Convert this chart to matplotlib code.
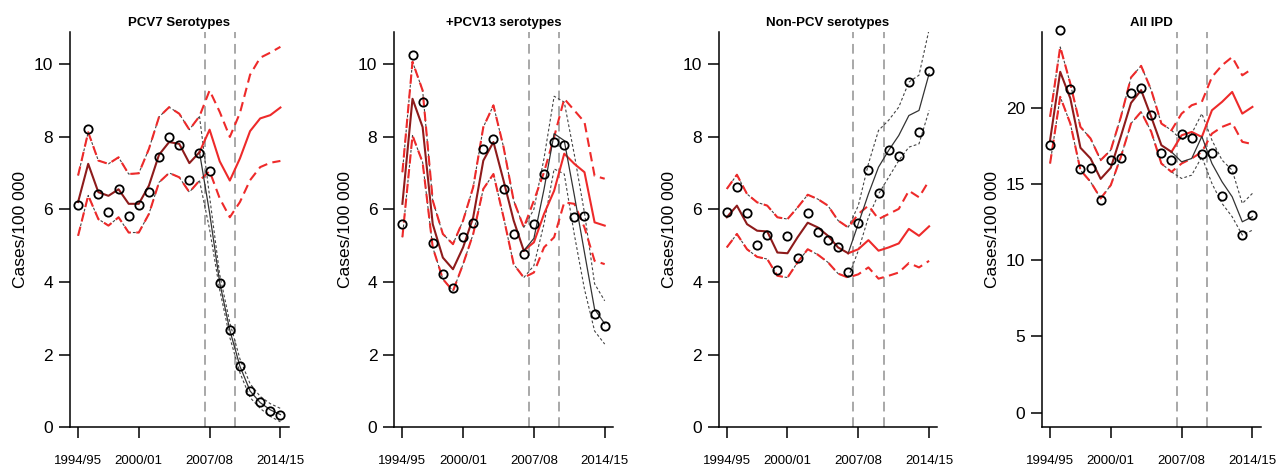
import numpy as np
import matplotlib
matplotlib.use('Agg')
import matplotlib.pyplot as plt

plt.rcParams['font.family'] = ['Liberation Sans', 'DejaVu Sans']

# seasons 1994/95 .. 2014/15 -> index 0..20
x = np.arange(21)
tick_pos = [0, 6, 13, 20]
tick_labels = ['1994/95', '2000/01', '2007/08', '2014/15']
vaccine_lines = [12.5, 15.5]   # PCV7, PCV13
split = 12                      # last pre-vaccine season

titles = ['PCV7 Serotypes', '+PCV13 serotypes', 'Non-PCV serotypes', 'All IPD']

# observed incidence
pcv7_obs = [6.13, 8.21, 6.42, 5.93, 6.56, 5.81, 6.11, 6.47, 7.44, 7.99, 7.77,
            6.81, 7.55, 7.06, 3.96, 2.67, 1.69, 0.99, 0.69, 0.45, 0.35]
pcv13_obs = [5.59, 10.24, 8.95, 5.06, 4.21, 3.82, 5.24, 5.62, 7.65, 7.92, 6.55,
             5.31, 4.77, 5.6, 6.96, 7.84, 7.78, 5.78, 5.82, 3.13, 2.79]
nonpcv_obs = [5.93, 6.61, 5.9, 5.02, 5.29, 4.33, 5.27, 4.65, 5.9, 5.38, 5.16,
              4.95, 4.26, 5.63, 7.08, 6.45, 7.63, 7.46, 9.5, 8.14, 9.81]
ipd_obs = [17.53, 25.07, 21.24, 16.0, 16.05, 13.91, 16.59, 16.7, 20.96, 21.29, 19.5,
           17.05, 16.59, 18.25, 18.01, 16.94, 17.05, 14.21, 16.0, 11.66, 12.95]

# counterfactual (no vaccine) prediction with 95% interval
pcv7_cf = [6.2, 7.25, 6.47, 6.37, 6.55, 6.15, 6.15, 6.65, 7.5, 7.85, 7.8,
           7.27, 7.57, 8.19, 7.32, 6.79, 7.4, 8.15, 8.5, 8.59, 8.8]
pcv7_cf_hi = [6.93, 8.12, 7.34, 7.25, 7.43, 6.97, 6.99, 7.66, 8.54, 8.81, 8.63,
              8.19, 8.56, 9.27, 8.68, 7.99, 8.65, 9.7, 10.17, 10.31, 10.47]
pcv7_cf_lo = [5.27, 6.38, 5.73, 5.55, 5.78, 5.36, 5.36, 5.87, 6.74, 7.0, 6.88,
              6.47, 6.79, 7.05, 6.3, 5.78, 6.2, 6.8, 7.16, 7.28, 7.33]

pcv13_cf = [6.15, 9.04, 8.26, 5.59, 4.67, 4.35, 4.95, 5.78, 7.34, 7.85, 6.79,
            5.69, 4.86, 5.09, 5.87, 6.51, 7.53, 7.25, 7.02, 5.64, 5.55]
pcv13_cf_hi = [7.02, 10.06, 9.27, 6.24, 5.32, 5.04, 5.69, 6.61, 8.26, 8.86, 7.71,
               6.24, 5.5, 6.24, 7.02, 7.99, 9.04, 8.72, 8.4, 6.92, 6.84]
pcv13_cf_lo = [5.23, 8.03, 7.29, 4.95, 4.08, 3.75, 4.49, 5.32, 6.56, 6.97, 5.78,
               4.49, 4.12, 4.26, 4.95, 5.23, 6.19, 6.15, 5.5, 4.58, 4.49]

nonpcv_cf = [5.78, 6.1, 5.59, 5.41, 5.39, 4.81, 4.79, 5.23, 5.63, 5.5, 5.27,
             4.95, 4.79, 4.9, 5.15, 4.86, 4.95, 5.06, 5.46, 5.27, 5.53]
nonpcv_cf_hi = [6.56, 6.95, 6.42, 6.19, 6.1, 5.78, 5.73, 6.05, 6.4, 6.28, 6.1,
                5.69, 5.5, 5.87, 6.1, 5.73, 5.87, 6.01, 6.51, 6.33, 6.79]
nonpcv_cf_lo = [4.95, 5.32, 4.9, 4.69, 4.63, 4.17, 4.12, 4.54, 4.9, 4.75, 4.54,
                4.23, 4.12, 4.21, 4.4, 4.09, 4.17, 4.26, 4.52, 4.4, 4.58]

ipd_cf = [17.86, 22.34, 20.6, 17.36, 16.66, 15.32, 16.05, 18.13, 20.3, 21.14, 19.38,
          17.53, 17.09, 18.18, 18.4, 18.07, 19.82, 20.37, 21.02, 19.6, 20.04]
ipd_cf_hi = [19.39, 23.97, 21.57, 18.73, 17.97, 16.55, 17.21, 19.39, 21.97, 22.73, 21.14,
             18.95, 18.51, 19.6, 20.15, 20.37, 22.0, 22.77, 23.31, 22.11, 22.55]
ipd_cf_lo = [16.33, 20.7, 18.95, 15.9, 15.13, 14.04, 14.91, 16.77, 18.95, 19.72, 18.41,
             16.33, 15.78, 16.33, 16.66, 17.09, 18.29, 18.73, 18.99, 17.75, 17.6]

# fitted model (with vaccine effect), seasons 2006/07 .. 2014/15
pcv7_fit = [7.57, 5.9, 3.98, 2.67, 1.68, 1.0, 0.68, 0.48, 0.35]
pcv7_fit_hi = [8.56, 6.35, 4.2, 2.88, 1.88, 1.2, 0.85, 0.65, 0.52]
pcv7_fit_lo = [6.79, 5.45, 3.78, 2.47, 1.5, 0.82, 0.52, 0.3, 0.15]

pcv13_fit = [4.86, 5.2, 6.55, 8.08, 7.89, 6.38, 4.81, 3.25, 2.85]
pcv13_fit_hi = [5.5, 6.0, 7.4, 9.11, 8.95, 7.5, 5.9, 3.95, 3.48]
pcv13_fit_lo = [4.12, 4.45, 5.6, 7.11, 6.97, 5.3, 3.8, 2.65, 2.29]

nonpcv_fit = [4.79, 5.6, 6.42, 7.16, 7.62, 8.03, 8.58, 8.72, 9.73]
nonpcv_fit_hi = [5.5, 6.1, 7.25, 8.17, 8.45, 8.81, 9.5, 9.69, 10.95]
nonpcv_fit_lo = [4.12, 4.86, 5.78, 6.42, 6.88, 7.34, 7.71, 7.8, 8.72]

ipd_fit = [17.09, 16.44, 16.66, 18.1, 16.33, 15.13, 14.15, 12.51, 12.84]
ipd_fit_hi = [18.51, 17.86, 18.29, 19.6, 17.86, 16.55, 15.89, 13.71, 14.37]
ipd_fit_lo = [15.78, 15.35, 15.57, 16.77, 15.02, 13.71, 12.84, 11.64, 11.96]

panels = [
    (pcv7_obs, pcv7_cf, pcv7_cf_lo, pcv7_cf_hi, pcv7_fit, pcv7_fit_lo, pcv7_fit_hi),
    (pcv13_obs, pcv13_cf, pcv13_cf_lo, pcv13_cf_hi, pcv13_fit, pcv13_fit_lo, pcv13_fit_hi),
    (nonpcv_obs, nonpcv_cf, nonpcv_cf_lo, nonpcv_cf_hi, nonpcv_fit, nonpcv_fit_lo, nonpcv_fit_hi),
    (ipd_obs, ipd_cf, ipd_cf_lo, ipd_cf_hi, ipd_fit, ipd_fit_lo, ipd_fit_hi),
]
ylims = [(0, 10.87), (0, 10.87), (0, 10.87), (-0.96, 24.93)]
yticks = [[0, 2, 4, 6, 8, 10]] * 3 + [[0, 5, 10, 15, 20]]

red = '#EE2A2A'
maroon = '#8E1B1B'
W, H = 1278, 470
lefts = [70, 394.3, 718.7, 1042]

fig = plt.figure(figsize=(W / 100, H / 100), dpi=100)

for i, (obs, cf, cf_lo, cf_hi, fit, fit_lo, fit_hi) in enumerate(panels):
    ax = fig.add_axes([lefts[i] / W, 1 - 427.3 / H, 218.5 / W, 395 / H])
    cf = np.array(cf)
    cf_lo = np.array(cf_lo)
    cf_hi = np.array(cf_hi)
    xp = x[split:]

    for v in vaccine_lines:
        ax.axvline(v, color='#A8A8A8', lw=1.4, ls=(0, (5, 3)), zorder=1)

    # fitted model interval (dotted)
    dot = dict(color='#444444', lw=0.8, ls=(0, (2.5, 2)), zorder=2)
    ax.plot(x[:split + 1], cf_lo[:split + 1], **dot)
    ax.plot(x[:split + 1], cf_hi[:split + 1], **dot)
    ax.plot(xp, fit_lo, **dot)
    ax.plot(xp, fit_hi, **dot)

    # counterfactual interval (red dashed)
    ax.plot(x, cf_lo, color=red, lw=1.5, ls=(0, (4.5, 2.6)), zorder=3)
    ax.plot(x, cf_hi, color=red, lw=1.5, ls=(0, (4.5, 2.6)), zorder=3)

    # counterfactual mean, fitted mean
    ax.plot(xp, cf[split:], color=red, lw=1.5, zorder=4)
    ax.plot(xp, fit, color='#333333', lw=0.9, zorder=4)
    ax.plot(x[:split + 1], cf[:split + 1], color=maroon, lw=1.5, zorder=4)

    ax.plot(x, obs, 'o', ms=6, mfc='none', mec='black', mew=1.3,
            zorder=5, clip_on=False)

    ax.set_xlim(-0.8, 20.8)
    ax.set_ylim(*ylims[i])
    ax.set_xticks(tick_pos)
    ax.set_xticklabels(tick_labels)
    ax.set_yticks(yticks[i])
    ax.spines['top'].set_visible(False)
    ax.spines['right'].set_visible(False)
    for s in ['left', 'bottom']:
        ax.spines[s].set_linewidth(1.1)
    ax.tick_params(axis='y', length=7.7, width=1.1, labelsize=12.5, pad=4.5)
    ax.tick_params(axis='x', length=8, width=1.1, labelsize=9.5, pad=12)
    ax.set_ylabel('Cases/100 000', fontsize=12.5)
    ax.yaxis.set_label_coords(-0.19, 0.5)
    ax.set_title(titles[i], fontsize=9.5, fontweight='bold', pad=4.5)

fig.savefig('out.png', dpi=100)
